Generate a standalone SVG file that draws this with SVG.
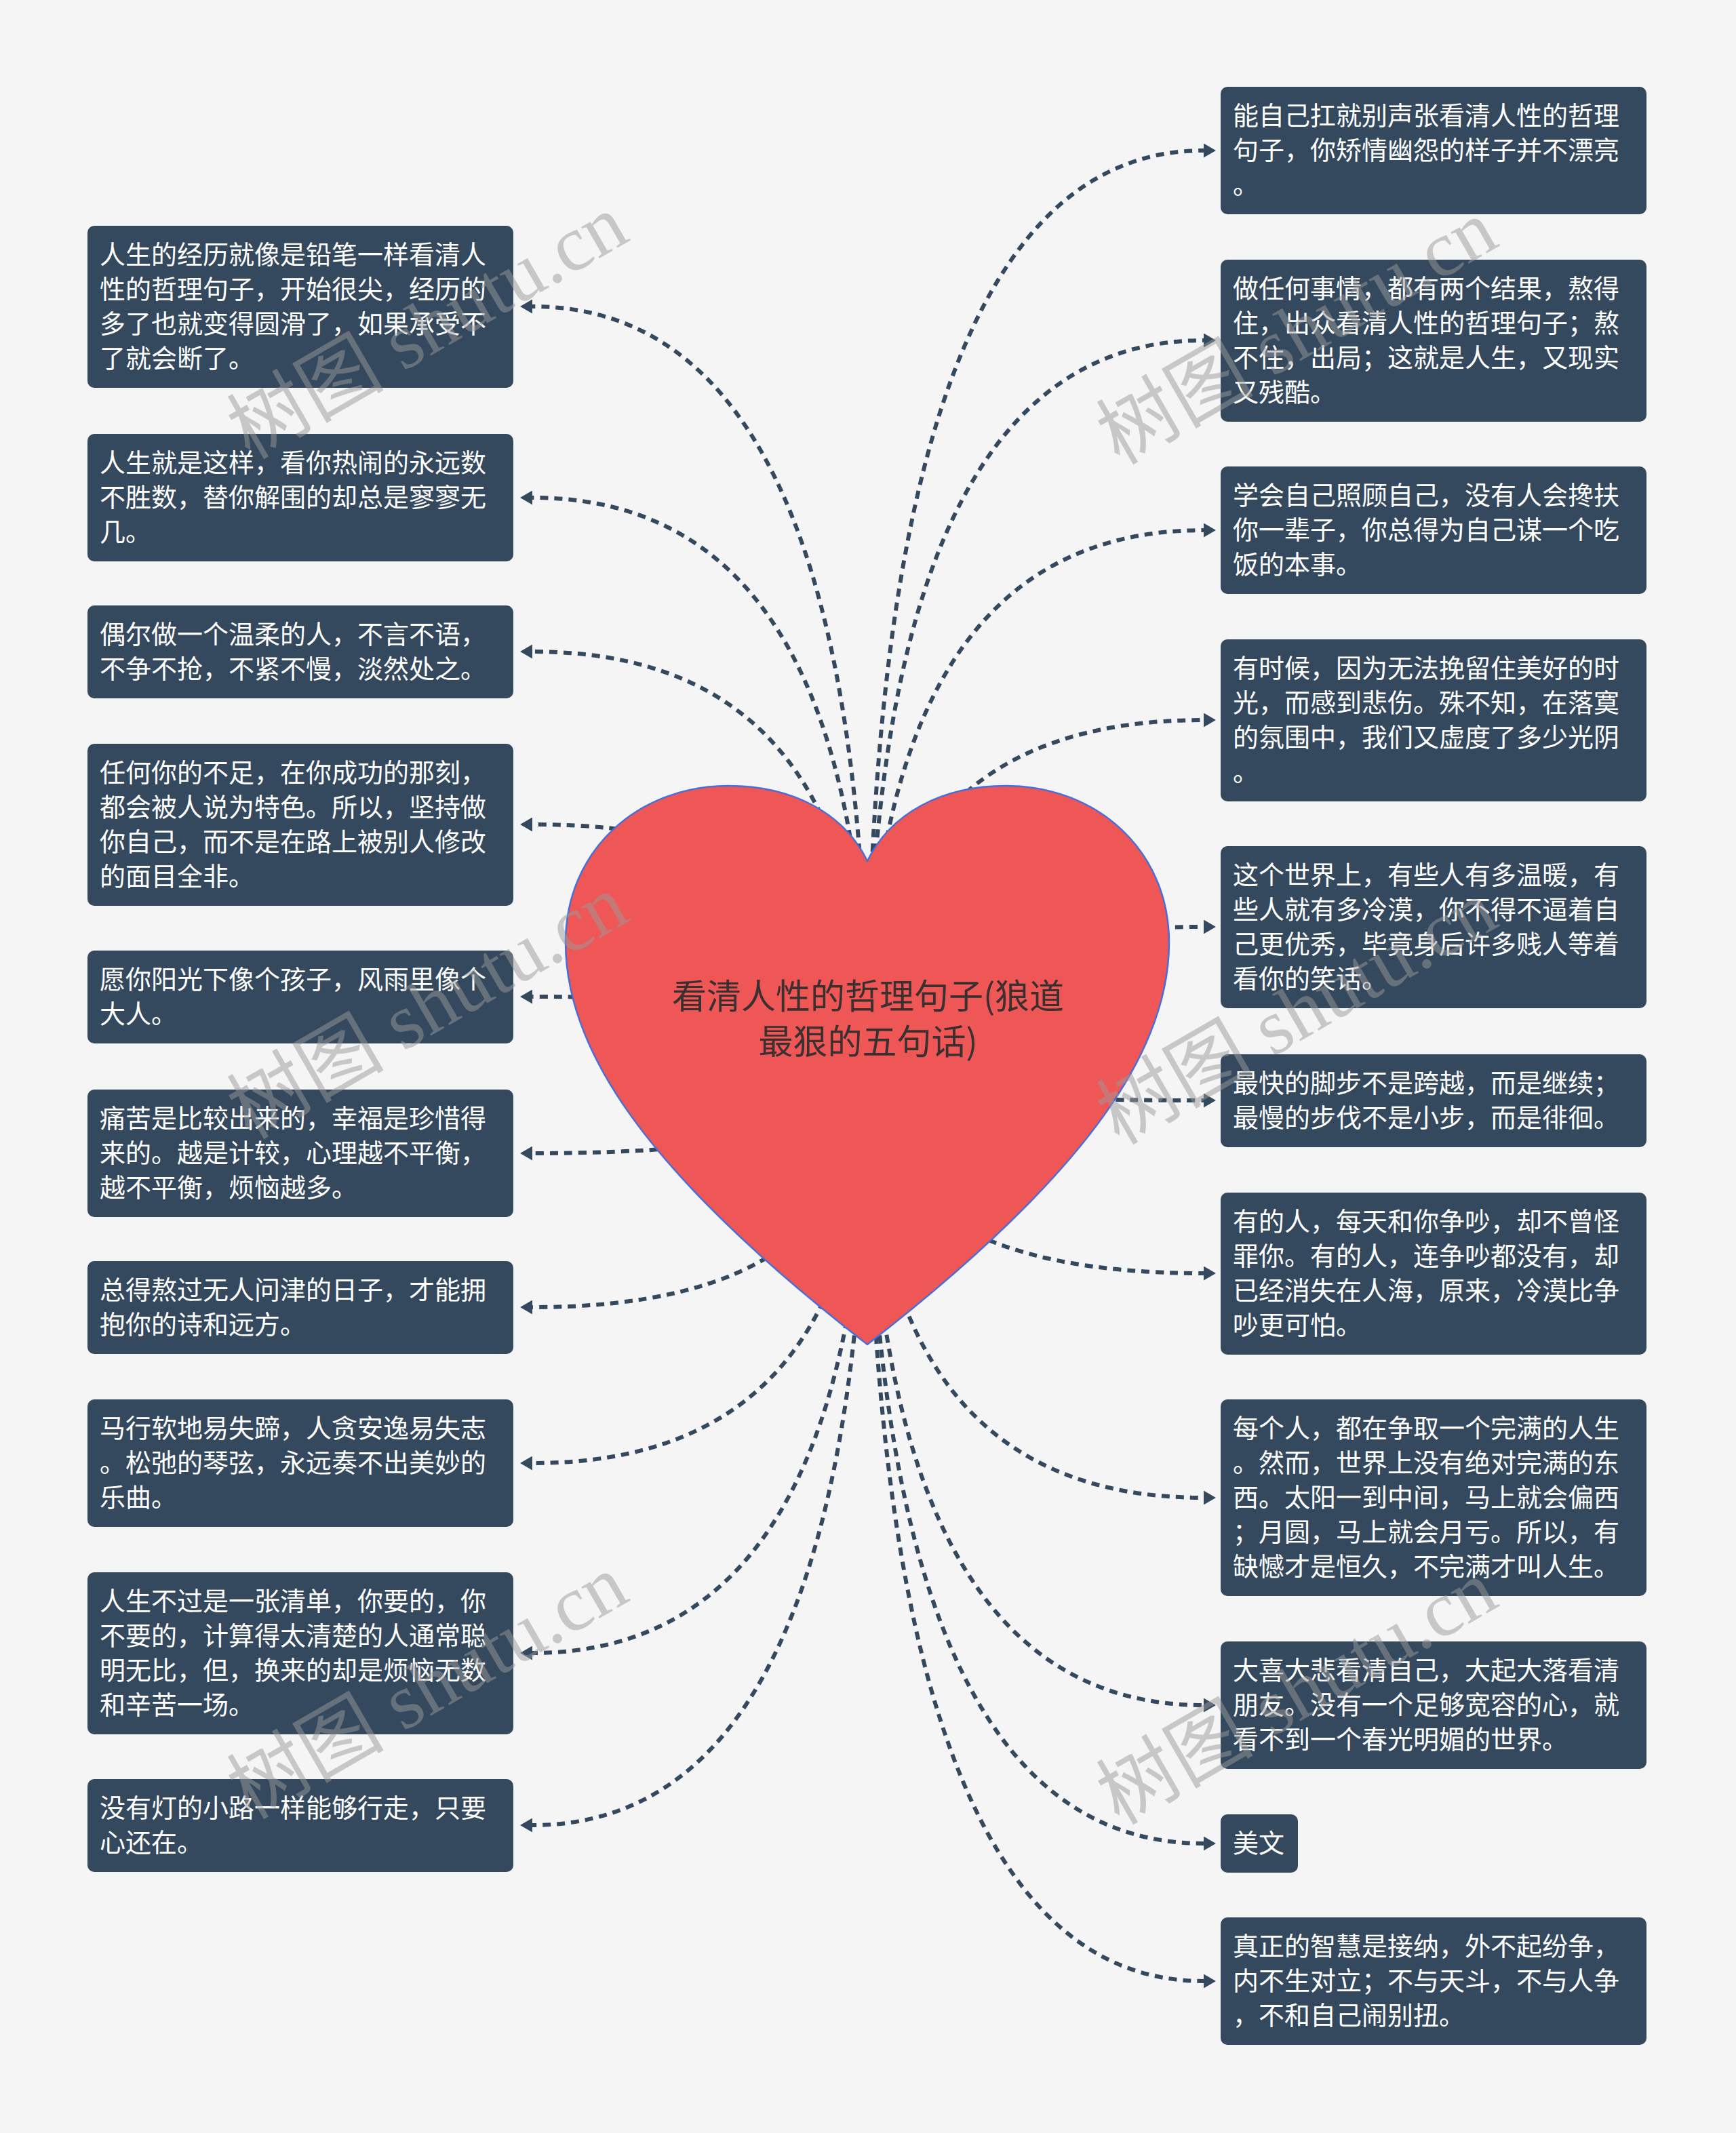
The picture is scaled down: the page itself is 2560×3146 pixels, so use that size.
<svg xmlns="http://www.w3.org/2000/svg" width="2560" height="3146" viewBox="0 0 2560 3146">
<style>
.bg{fill:#F5F5F5}
.box{fill:#34495E}
.t{font-family:"Noto Sans CJK SC","Noto Sans",sans-serif;font-size:38px;fill:#FFFFFF}
.c{fill:none;stroke:#34495E;stroke-width:6;stroke-dasharray:12 9;marker-end:url(#ah)}
.root{fill:#EF5656;stroke:#4A6ED8;stroke-width:2.5}
.rt{font-family:"Noto Sans CJK SC","Noto Sans",sans-serif;font-size:51px;fill:#3A3030;text-anchor:middle}
.wm{font-family:"Liberation Serif","Noto Sans CJK SC",serif;font-size:116px;fill:#9A9A9A;opacity:0.5;text-anchor:middle}
</style>
<defs>
<marker id="ah" markerUnits="userSpaceOnUse" markerWidth="18" markerHeight="21" viewBox="0 0 18 21" refX="0" refY="10.5" orient="auto">
<path d="M0,0 L18,10.5 L0,21 Z" fill="#34495E" stroke="none"/>
</marker>
</defs>
<rect class="bg" x="0" y="0" width="2560" height="3146"/>
<g id="connectors">
<path class="c" d="M1279,1571 Q1279,452 785,452"/>
<path class="c" d="M1279,1571 Q1279,734 785,734"/>
<path class="c" d="M1279,1571 Q1279,961 785,961"/>
<path class="c" d="M1279,1571 Q1279,1216 785,1216"/>
<path class="c" d="M1279,1571 Q1279,1470 785,1470"/>
<path class="c" d="M1279,1571 Q1279,1701 785,1701"/>
<path class="c" d="M1279,1571 Q1279,1928 785,1928"/>
<path class="c" d="M1279,1571 Q1279,2158 785,2158"/>
<path class="c" d="M1279,1571 Q1279,2438 785,2438"/>
<path class="c" d="M1279,1571 Q1279,2692 785,2692"/>
<path class="c" d="M1279,1571 Q1279,222 1775,222"/>
<path class="c" d="M1279,1571 Q1279,502 1775,502"/>
<path class="c" d="M1279,1571 Q1279,782 1775,782"/>
<path class="c" d="M1279,1571 Q1279,1062 1775,1062"/>
<path class="c" d="M1279,1571 Q1279,1367 1775,1367"/>
<path class="c" d="M1279,1571 Q1279,1623 1775,1623"/>
<path class="c" d="M1279,1571 Q1279,1878 1775,1878"/>
<path class="c" d="M1279,1571 Q1279,2209 1775,2209"/>
<path class="c" d="M1279,1571 Q1279,2515 1775,2515"/>
<path class="c" d="M1279,1571 Q1279,2719 1775,2719"/>
<path class="c" d="M1279,1571 Q1279,2922 1775,2922"/>
</g>
<g id="root">
<path class="root" d="M1279,1270 C1245,1200 1170,1159 1074,1159 C940,1159 834,1255 834,1390 C834,1540 940,1720 1279,1983 C1618,1720 1724,1540 1724,1390 C1724,1255 1618,1159 1484,1159 C1388,1159 1313,1200 1279,1270 Z"/>
<text class="rt"><tspan x="1280" y="1488">看清人性的哲理句子(狼道</tspan><tspan x="1280" y="1555">最狠的五句话)</tspan></text>
</g>
<g id="L1"><rect class="box" x="129" y="333" width="628" height="239" rx="10"/><text class="t"><tspan x="147" y="389">人生的经历就像是铅笔一样看清人</tspan><tspan x="147" y="440">性的哲理句子，开始很尖，经历的</tspan><tspan x="147" y="491">多了也就变得圆滑了，如果承受不</tspan><tspan x="147" y="542">了就会断了。</tspan></text></g>
<g id="L2"><rect class="box" x="129" y="640" width="628" height="188" rx="10"/><text class="t"><tspan x="147" y="696">人生就是这样，看你热闹的永远数</tspan><tspan x="147" y="747">不胜数，替你解围的却总是寥寥无</tspan><tspan x="147" y="798">几。</tspan></text></g>
<g id="L3"><rect class="box" x="129" y="893" width="628" height="137" rx="10"/><text class="t"><tspan x="147" y="949">偶尔做一个温柔的人，不言不语，</tspan><tspan x="147" y="1000">不争不抢，不紧不慢，淡然处之。</tspan></text></g>
<g id="L4"><rect class="box" x="129" y="1097" width="628" height="239" rx="10"/><text class="t"><tspan x="147" y="1153">任何你的不足，在你成功的那刻，</tspan><tspan x="147" y="1204">都会被人说为特色。所以，坚持做</tspan><tspan x="147" y="1255">你自己，而不是在路上被别人修改</tspan><tspan x="147" y="1306">的面目全非。</tspan></text></g>
<g id="L5"><rect class="box" x="129" y="1402" width="628" height="137" rx="10"/><text class="t"><tspan x="147" y="1458">愿你阳光下像个孩子，风雨里像个</tspan><tspan x="147" y="1509">大人。</tspan></text></g>
<g id="L6"><rect class="box" x="129" y="1607" width="628" height="188" rx="10"/><text class="t"><tspan x="147" y="1663">痛苦是比较出来的，幸福是珍惜得</tspan><tspan x="147" y="1714">来的。越是计较，心理越不平衡，</tspan><tspan x="147" y="1765">越不平衡，烦恼越多。</tspan></text></g>
<g id="L7"><rect class="box" x="129" y="1860" width="628" height="137" rx="10"/><text class="t"><tspan x="147" y="1916">总得熬过无人问津的日子，才能拥</tspan><tspan x="147" y="1967">抱你的诗和远方。</tspan></text></g>
<g id="L8"><rect class="box" x="129" y="2064" width="628" height="188" rx="10"/><text class="t"><tspan x="147" y="2120">马行软地易失蹄，人贪安逸易失志</tspan><tspan x="147" y="2171">。松弛的琴弦，永远奏不出美妙的</tspan><tspan x="147" y="2222">乐曲。</tspan></text></g>
<g id="L9"><rect class="box" x="129" y="2319" width="628" height="239" rx="10"/><text class="t"><tspan x="147" y="2375">人生不过是一张清单，你要的，你</tspan><tspan x="147" y="2426">不要的，计算得太清楚的人通常聪</tspan><tspan x="147" y="2477">明无比，但，换来的却是烦恼无数</tspan><tspan x="147" y="2528">和辛苦一场。</tspan></text></g>
<g id="L10"><rect class="box" x="129" y="2624" width="628" height="137" rx="10"/><text class="t"><tspan x="147" y="2680">没有灯的小路一样能够行走，只要</tspan><tspan x="147" y="2731">心还在。</tspan></text></g>
<g id="R1"><rect class="box" x="1800" y="128" width="628" height="188" rx="10"/><text class="t"><tspan x="1818" y="184">能自己扛就别声张看清人性的哲理</tspan><tspan x="1818" y="235">句子，你矫情幽怨的样子并不漂亮</tspan><tspan x="1818" y="286">。</tspan></text></g>
<g id="R2"><rect class="box" x="1800" y="383" width="628" height="239" rx="10"/><text class="t"><tspan x="1818" y="439">做任何事情，都有两个结果，熬得</tspan><tspan x="1818" y="490">住，出众看清人性的哲理句子；熬</tspan><tspan x="1818" y="541">不住，出局；这就是人生，又现实</tspan><tspan x="1818" y="592">又残酷。</tspan></text></g>
<g id="R3"><rect class="box" x="1800" y="688" width="628" height="188" rx="10"/><text class="t"><tspan x="1818" y="744">学会自己照顾自己，没有人会搀扶</tspan><tspan x="1818" y="795">你一辈子，你总得为自己谋一个吃</tspan><tspan x="1818" y="846">饭的本事。</tspan></text></g>
<g id="R4"><rect class="box" x="1800" y="943" width="628" height="239" rx="10"/><text class="t"><tspan x="1818" y="999">有时候，因为无法挽留住美好的时</tspan><tspan x="1818" y="1050">光，而感到悲伤。殊不知，在落寞</tspan><tspan x="1818" y="1101">的氛围中，我们又虚度了多少光阴</tspan><tspan x="1818" y="1152">。</tspan></text></g>
<g id="R5"><rect class="box" x="1800" y="1248" width="628" height="239" rx="10"/><text class="t"><tspan x="1818" y="1304">这个世界上，有些人有多温暖，有</tspan><tspan x="1818" y="1355">些人就有多冷漠，你不得不逼着自</tspan><tspan x="1818" y="1406">己更优秀，毕竟身后许多贱人等着</tspan><tspan x="1818" y="1457">看你的笑话。</tspan></text></g>
<g id="R6"><rect class="box" x="1800" y="1555" width="628" height="137" rx="10"/><text class="t"><tspan x="1818" y="1611">最快的脚步不是跨越，而是继续；</tspan><tspan x="1818" y="1662">最慢的步伐不是小步，而是徘徊。</tspan></text></g>
<g id="R7"><rect class="box" x="1800" y="1759" width="628" height="239" rx="10"/><text class="t"><tspan x="1818" y="1815">有的人，每天和你争吵，却不曾怪</tspan><tspan x="1818" y="1866">罪你。有的人，连争吵都没有，却</tspan><tspan x="1818" y="1917">已经消失在人海，原来，冷漠比争</tspan><tspan x="1818" y="1968">吵更可怕。</tspan></text></g>
<g id="R8"><rect class="box" x="1800" y="2064" width="628" height="290" rx="10"/><text class="t"><tspan x="1818" y="2120">每个人，都在争取一个完满的人生</tspan><tspan x="1818" y="2171">。然而，世界上没有绝对完满的东</tspan><tspan x="1818" y="2222">西。太阳一到中间，马上就会偏西</tspan><tspan x="1818" y="2273">；月圆，马上就会月亏。所以，有</tspan><tspan x="1818" y="2324">缺憾才是恒久，不完满才叫人生。</tspan></text></g>
<g id="R9"><rect class="box" x="1800" y="2421" width="628" height="188" rx="10"/><text class="t"><tspan x="1818" y="2477">大喜大悲看清自己，大起大落看清</tspan><tspan x="1818" y="2528">朋友。没有一个足够宽容的心，就</tspan><tspan x="1818" y="2579">看不到一个春光明媚的世界。</tspan></text></g>
<g id="R10"><rect class="box" x="1800" y="2676" width="114" height="86" rx="10"/><text class="t"><tspan x="1818" y="2732">美文</tspan></text></g>
<g id="R11"><rect class="box" x="1800" y="2828" width="628" height="188" rx="10"/><text class="t"><tspan x="1818" y="2884">真正的智慧是接纳，外不起纷争，</tspan><tspan x="1818" y="2935">内不生对立；不与天斗，不与人争</tspan><tspan x="1818" y="2986">，不和自己闹别扭。</tspan></text></g>
<g id="watermarks">
<text class="wm" transform="translate(650,516) rotate(-30)">树图 shutu.cn</text>
<text class="wm" transform="translate(1932,524) rotate(-30)">树图 shutu.cn</text>
<text class="wm" transform="translate(650,1519) rotate(-30)">树图 shutu.cn</text>
<text class="wm" transform="translate(1932,1527) rotate(-30)">树图 shutu.cn</text>
<text class="wm" transform="translate(650,2522) rotate(-30)">树图 shutu.cn</text>
<text class="wm" transform="translate(1932,2530) rotate(-30)">树图 shutu.cn</text>
</g>
</svg>
